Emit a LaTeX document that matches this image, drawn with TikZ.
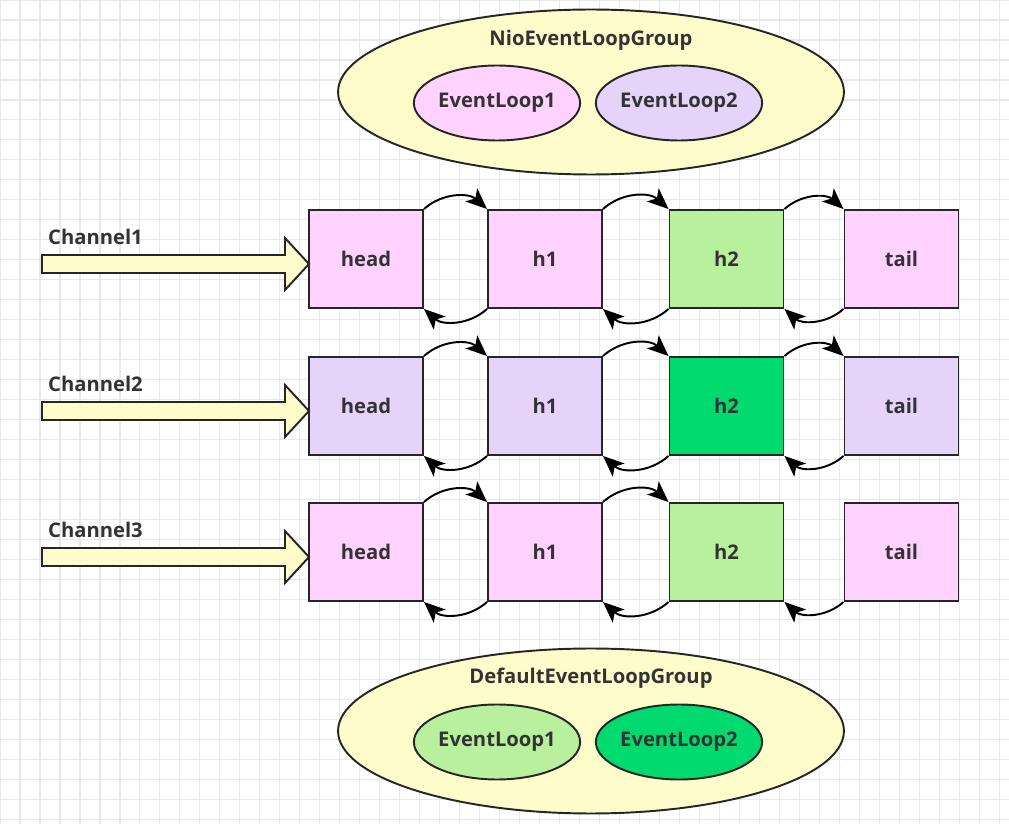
\documentclass[tikz,border=0pt]{standalone}
\usepackage{fontspec}
\setmainfont{Open Sans}
\usepackage{tikz}
\usetikzlibrary{arrows.meta,shapes.geometric}

\definecolor{pinkbox}{HTML}{FFD2FF}
\definecolor{lilacbox}{HTML}{E6D3FA}
\definecolor{lightgreen}{HTML}{B9F09E}
\definecolor{darkgreen}{HTML}{00DA6E}
\definecolor{paleyellow}{HTML}{FFFCCC}
\definecolor{gridgray}{HTML}{E8E8E8}
\definecolor{textgray}{HTML}{333333}

\tikzset{
    handler/.style={draw=black!85, line width=1.1pt, minimum width=2.28cm, minimum height=1.96cm,
        inner sep=0pt, font=\bfseries\fontsize{11.5}{13}\selectfont, text=textgray},
    group/.style={ellipse, draw=black!85, line width=1.1pt, fill=paleyellow, inner sep=0pt,
        minimum width=10.12cm, minimum height=3.3cm},
    loop/.style={ellipse, draw=black!85, line width=1.1pt, inner sep=0pt,
        minimum width=2.96cm, minimum height=1.5cm, font=\bfseries\fontsize{11.5}{13}\selectfont, text=textgray},
    title/.style={font=\bfseries\fontsize{11.5}{13}\selectfont, text=textgray},
    link/.style={line width=1.1pt, -{Stealth[length=12pt,width=10pt,inset=3pt]}},
    chan/.style={draw=black!85, line width=1.1pt, fill=paleyellow, line join=miter},
}

\begin{document}
\begin{tikzpicture}[x=0.02cm, y=-0.02cm]
    \useasboundingbox (0,0) rectangle (1009,824);
    \fill[white] (0,0) rectangle (1009,824);
    \draw[gridgray, line width=0.6pt, xstep=0.4cm, ystep=0.4cm] (0,0) grid (1009,824);

    % NioEventLoopGroup
    \node[group] (nio) at (591,92) {};
    \node[title] (niotitle) at (591,40) {NioEventLoopGroup};
    \node[loop, fill=pinkbox] (nioloop1) at (497,103) {EventLoop1};
    \node[loop, fill=lilacbox] (nioloop2) at (679,103) {EventLoop2};

    % pipelines
    \node[handler, fill=pinkbox] (head1) at (366,259) {head};
    \node[handler, fill=pinkbox] (hone1) at (545,259) {h1};
    \node[handler, fill=lightgreen] (htwo1) at (726.5,259) {h2};
    \node[handler, fill=pinkbox] (tail1) at (901.5,259) {tail};

    \node[handler, fill=lilacbox] (head2) at (366,406) {head};
    \node[handler, fill=lilacbox] (hone2) at (545,406) {h1};
    \node[handler, fill=darkgreen] (htwo2) at (726.5,406) {h2};
    \node[handler, fill=lilacbox] (tail2) at (901.5,406) {tail};

    \node[handler, fill=pinkbox] (head3) at (366,552) {head};
    \node[handler, fill=pinkbox] (hone3) at (545,552) {h1};
    \node[handler, fill=lightgreen] (htwo3) at (726.5,552) {h2};
    \node[handler, fill=pinkbox] (tail3) at (901.5,552) {tail};

    % next / prev links
    \foreach \r in {1,2,3} {
        \draw[link] (head\r.north east) to[bend left=42] (hone\r.north west);
        \draw[link] (hone\r.south west) to[bend left=42] (head\r.south east);
        \draw[link] (hone\r.north east) to[bend left=42] (htwo\r.north west);
        \draw[link] (htwo\r.south west) to[bend left=42] (hone\r.south east);
        \draw[link] (tail\r.south west) to[bend left=42] (htwo\r.south east);
    }
    \draw[link] (htwo1.north east) to[bend left=42] (tail1.north west);
    \draw[link] (htwo2.north east) to[bend left=42] (tail2.north west);

    % channels
    \foreach \r/\y in {1/264,2/411,3/557} {
        \draw[chan] (42,\y-9) -- (285,\y-9) -- (285,\y-26) -- (309,\y) -- (285,\y+26)
            -- (285,\y+9) -- (42,\y+9) -- cycle;
        \node[title, anchor=west] (chan\r) at (42,\y-27) {Channel\r};
    }

    % DefaultEventLoopGroup
    \node[group] (def) at (591,731) {};
    \node[title] (deftitle) at (591,678) {DefaultEventLoopGroup};
    \node[loop, fill=lightgreen] (defloop1) at (497,742) {EventLoop1};
    \node[loop, fill=darkgreen] (defloop2) at (679,742) {EventLoop2};
\end{tikzpicture}
\end{document}
